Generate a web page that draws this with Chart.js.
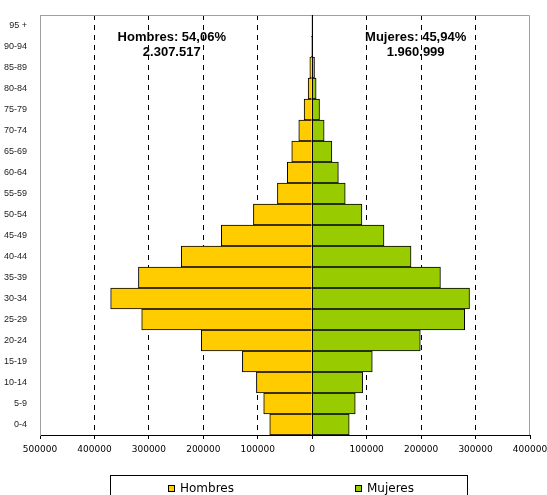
<!DOCTYPE html>
<html>
<head>
<meta charset="utf-8">
<script src="https://cdn.jsdelivr.net/npm/chart.js@4/dist/chart.umd.min.js"></script>
<style>
  html, body { margin: 0; padding: 0; background: #fff; }
  #wrap { width: 547px; height: 495px; position: relative; }
</style>
</head>
<body>
<div id="wrap"><canvas id="piramide"></canvas></div>
<script>
// grupos de edad, de abajo hacia arriba
const ageGroups = ['0-4', '5-9', '10-14', '15-19', '20-24', '25-29', '30-34', '35-39', '40-44', '45-49',
  '50-54', '55-59', '60-64', '65-69', '70-74', '75-79', '80-84', '85-89', '90-94', '95 +'];
const hombres = [78000, 89100, 102500, 128300, 203800, 313200, 370200, 319200, 240600, 167000,
  108000, 63900, 45800, 37600, 24700, 14900, 7500, 4400, 1500, 500];
const mujeres = [67900, 79000, 92600, 110300, 198500, 280000, 288900, 235500, 181500, 131800,
  91300, 60600, 48000, 36100, 21900, 13400, 7200, 4200, 900, 400];
const xTicks = [-500000, -400000, -300000, -200000, -100000, 0, 100000, 200000, 300000, 400000];
const resumenHombres = ['Hombres: 54,06%', '2.307.517'];
const resumenMujeres = ['Mujeres: 45,94%', '1.960.999'];

const piramideExtras = {
  id: 'piramideExtras',
  beforeDatasetsDraw(chart) {
    // marco gris arriba y a la derecha
    const { ctx, chartArea: a } = chart;
    ctx.save();
    ctx.strokeStyle = '#a0a0a0';
    ctx.lineWidth = 1;
    ctx.beginPath();
    ctx.moveTo(a.left, a.top + 0.5);
    ctx.lineTo(a.right - 0.5, a.top + 0.5);
    ctx.lineTo(a.right - 0.5, a.bottom);
    ctx.stroke();
    ctx.restore();
  },
  afterDatasetsDraw(chart) {
    // eje central en 0
    const { ctx, chartArea: a } = chart;
    const x0 = Math.round(chart.scales.x.getPixelForValue(0)) + 0.5;
    ctx.save();
    ctx.strokeStyle = '#000';
    ctx.lineWidth = 1;
    ctx.beginPath();
    ctx.moveTo(x0, a.top);
    ctx.lineTo(x0, a.bottom);
    ctx.stroke();
    ctx.restore();
  },
  afterDraw(chart) {
    const { ctx, chartArea: a } = chart;
    const xs = chart.scales.x;
    ctx.save();
    ctx.fillStyle = '#000';
    ctx.textAlign = 'center';
    ctx.textBaseline = 'middle';
    ctx.font = 'bold 13px "Liberation Sans", Arial, sans-serif';
    const xh = xs.getPixelForValue(-258000);
    const xm = xs.getPixelForValue(190000);
    ctx.fillText(resumenHombres[0], xh, a.top + 22);
    ctx.fillText(resumenHombres[1], xh, a.top + 37);
    ctx.fillText(resumenMujeres[0], xm, a.top + 22);
    ctx.fillText(resumenMujeres[1], xm, a.top + 37);

    // leyenda con recuadro
    ctx.strokeStyle = '#000';
    ctx.lineWidth = 1;
    ctx.strokeRect(110.5, 475.5, 357, 30);
    ctx.font = '12px "DejaVu Sans", Verdana, sans-serif';
    ctx.textAlign = 'left';
    const items = [[168, chart.data.datasets[0]], [355, chart.data.datasets[1]]];
    items.forEach(([lx, ds]) => {
      ctx.fillStyle = ds.backgroundColor;
      ctx.fillRect(lx + 0.5, 485.5, 6, 6);
      ctx.strokeRect(lx + 0.5, 485.5, 6, 6);
      ctx.fillStyle = '#000';
      ctx.fillText(ds.label, lx + 12, 489);
    });
    ctx.restore();
  }
};

const ctx = document.getElementById('piramide').getContext('2d');
new Chart(ctx, {
  type: 'bar',
  data: {
    labels: ageGroups,
    datasets: [
      {
        label: 'Hombres',
        data: hombres.map(v => -v),
        backgroundColor: '#FFCC00',
        borderColor: '#000',
        borderWidth: 1,
        barPercentage: 1,
        categoryPercentage: 1
      },
      {
        label: 'Mujeres',
        data: mujeres,
        backgroundColor: '#99CC00',
        borderColor: '#000',
        borderWidth: 1,
        barPercentage: 1,
        categoryPercentage: 1
      }
    ]
  },
  options: {
    indexAxis: 'y',
    responsive: true,
    maintainAspectRatio: false,
    animation: false,
    layout: { padding: { left: 0, top: 15, right: 17, bottom: 35 } },
    plugins: {
      legend: { display: false },
      tooltip: { enabled: false }
    },
    scales: {
      x: {
        stacked: true,
        min: xTicks[0],
        max: xTicks[xTicks.length - 1],
        afterBuildTicks: (scale) => { scale.ticks = xTicks.map(v => ({ value: v })); },
        afterFit: (scale) => {
          scale.height = 25;
          scale.paddingLeft = 0;
          scale.paddingRight = 0;
        },
        ticks: {
          color: '#000',
          padding: 5,
          maxRotation: 0,
          font: { family: '"DejaVu Sans", Verdana, sans-serif', size: 9 },
          callback: (value) => String(Math.abs(value))
        },
        grid: {
          color: (c) => {
            const v = c.tick ? c.tick.value : null;
            return (v === 0 || v === xTicks[0] || v === xTicks[xTicks.length - 1]) ? 'rgba(0,0,0,0)' : '#000';
          },
          tickColor: '#000',
          tickLength: 4
        },
        border: { color: '#000', width: 1, dash: [5, 5] }
      },
      y: {
        stacked: true,
        reverse: true,
        afterFit: (scale) => { scale.width = 40; },
        ticks: {
          color: '#222',
          padding: 5,
          autoSkip: false,
          font: { family: '"Liberation Sans", Arial, sans-serif', size: 9 }
        },
        grid: { display: false },
        border: { color: '#a0a0a0', width: 1 }
      }
    }
  },
  plugins: [piramideExtras]
});
</script>
</body>
</html>
